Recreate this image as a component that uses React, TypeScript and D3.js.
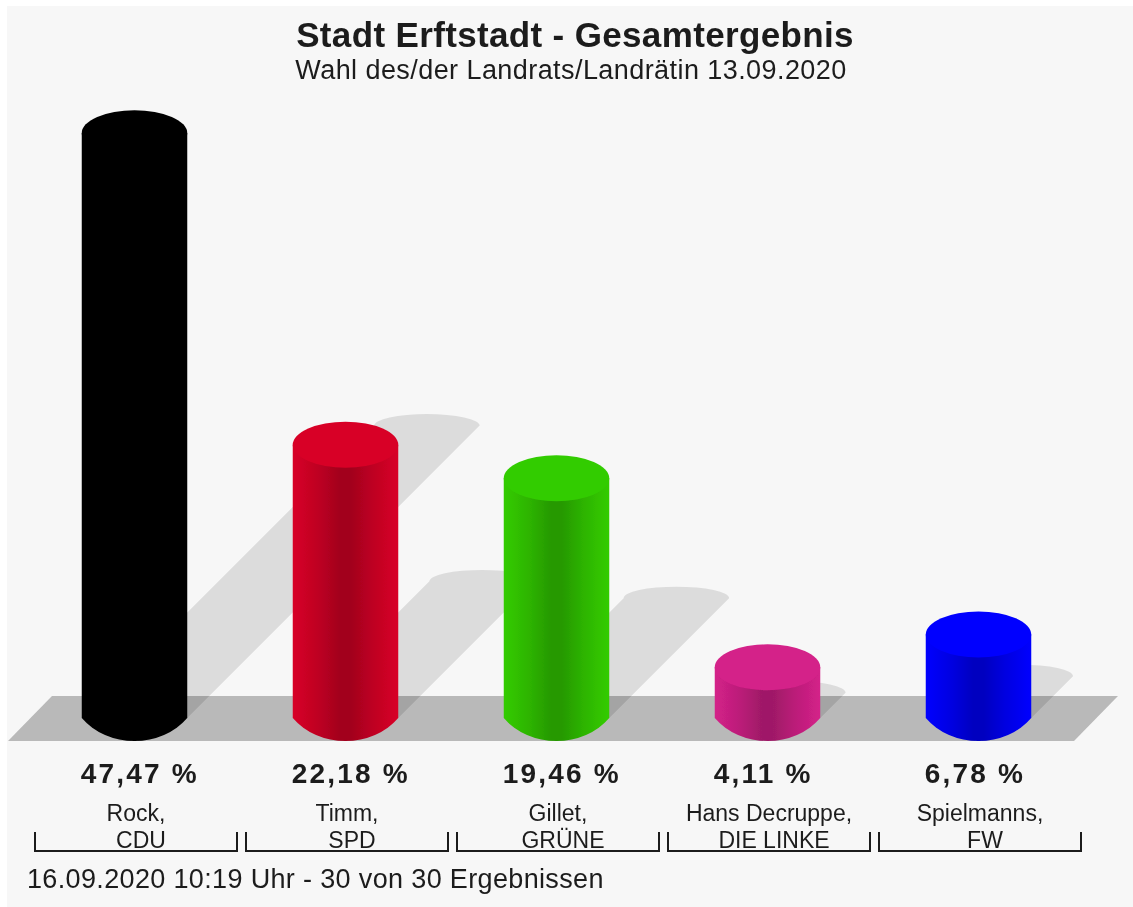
import React, { useEffect, useRef } from 'react';
import * as d3 from 'd3';

const candidates = ['Rock,', 'Timm,', 'Gillet,', 'Hans Decruppe,', 'Spielmanns,'];
const parties = ['CDU', 'SPD', 'GRÜNE', 'DIE LINKE', 'FW'];
const shares = [47.47, 22.18, 19.46, 4.11, 6.78];
const shareLabels = ['47,47 %', '22,18 %', '19,46 %', '4,11 %', '6,78 %'];
const colors = ['#000000', '#d80027', '#33cc00', '#d42189', '#0000ff'];

const title = 'Stadt Erftstadt - Gesamtergebnis';
const subtitle = 'Wahl des/der Landrats/Landrätin 13.09.2020';
const footer = '16.09.2020 10:19 Uhr - 30 von 30 Ergebnissen';

const WIDTH = 1133;
const HEIGHT = 907;
const FONT = '"Liberation Sans", Arial, sans-serif';
const INK = '#1c1c1c';

const App = () => {
  const chartRef = useRef<SVGSVGElement | null>(null);

  useEffect(() => {
    const svg = d3.select(chartRef.current);
    svg.selectAll('*').remove();

    const x = d3.scaleBand().domain(candidates).range([29, 1084]).padding(0);
    const y = d3.scaleLinear().domain([0, 50]).range([718, 102]);

    const base = y(0);
    const barWidth = x.bandwidth() / 2;
    const rx = barWidth / 2;
    const ry = 23;
    const left = (d: string) => x(d)! + barWidth / 2;
    const centre = (d: string) => x(d)! + x.bandwidth() / 2;
    const valueOf = (i: number) => shares[i];

    // bottom edge is flatter than the cap, so it meets the sides at a corner
    const bottomRx = rx * 1.25;
    const bottomRy = ry / (1 - Math.sqrt(1 - (rx / bottomRx) ** 2));

    // one gradient per bar, dark stripe down the middle
    const defs = svg.append('defs');
    candidates.forEach((d, i) => {
      const dark = d3.rgb(colors[i]).darker(0.8).formatHex();
      const mid = d3.interpolateRgb(colors[i], dark)(0.5);
      const grad = defs.append('linearGradient').attr('id', `bar-${i}`);
      [[0, colors[i]], [0.25, mid], [0.45, dark], [0.55, dark], [0.75, mid], [1, colors[i]]].forEach(([o, c]) => {
        grad.append('stop').attr('offset', o as number).attr('stop-color', c as string);
      });
    });
    const soft = defs.append('filter').attr('id', 'soft');
    soft.append('feGaussianBlur').attr('stdDeviation', 0.7);

    svg.append('rect')
      .attr('x', 7).attr('y', 6)
      .attr('width', WIDTH - 7).attr('height', HEIGHT - 6)
      .attr('fill', '#f7f7f7');

    const g = svg.append('g').attr('filter', 'url(#soft)');

    // floor
    g.append('path')
      .attr('d', `M8,741L52,696H1118L1074,741Z`)
      .attr('fill', '#b9b9b9');

    // shadows: half the bar height, sheared 45 degrees
    g.selectAll('.shadow')
      .data(candidates)
      .enter()
      .append('path')
      .attr('class', 'shadow')
      .attr('fill', 'rgba(0,0,0,0.11)')
      .attr('d', (d, i) => {
        const h = (base - y(valueOf(i))) / 2;
        const l = left(d);
        return `M${l},${base}L${l + h},${base - h}A${rx},${ry / 2} 0 0 1 ${l + barWidth + h},${base - h}L${l + barWidth},${base}Z`;
      });

    // cylinder bodies
    g.selectAll('.bar')
      .data(candidates)
      .enter()
      .append('path')
      .attr('class', 'bar')
      .attr('fill', (d, i) => `url(#bar-${i})`)
      .attr('d', (d, i) => {
        const l = left(d);
        const top = y(valueOf(i));
        return `M${l},${top}V${base}A${bottomRx},${bottomRy} 0 0 0 ${l + barWidth},${base}V${top}Z`;
      });

    // cylinder caps
    g.selectAll('.cap')
      .data(candidates)
      .enter()
      .append('ellipse')
      .attr('class', 'cap')
      .attr('cx', d => centre(d))
      .attr('cy', (d, i) => y(valueOf(i)))
      .attr('rx', rx)
      .attr('ry', ry)
      .attr('fill', (d, i) => colors[i]);

    // percent labels
    g.selectAll('.share')
      .data(shareLabels)
      .enter()
      .append('text')
      .attr('class', 'share')
      .attr('x', (d, i) => left(candidates[i]) - 1)
      .attr('y', 783)
      .attr('font-size', 28)
      .attr('font-weight', 700)
      .attr('letter-spacing', 2.2)
      .text(d => d);

    // brackets under each candidate
    g.selectAll('.bracket')
      .data(candidates)
      .enter()
      .append('path')
      .attr('class', 'bracket')
      .attr('fill', 'none')
      .attr('stroke', INK)
      .attr('stroke-width', 2)
      .attr('d', d => `M${x(d)! + 6},832V851H${x(d)! + x.bandwidth() - 3}V832`);

    g.selectAll('.candidate')
      .data(candidates)
      .enter()
      .append('text')
      .attr('class', 'candidate')
      .attr('x', d => centre(d) + 1.5)
      .attr('y', 821)
      .attr('text-anchor', 'middle')
      .attr('font-size', 23)
      .text(d => d);

    g.selectAll('.party')
      .data(parties)
      .enter()
      .append('text')
      .attr('class', 'party')
      .attr('x', (d, i) => centre(candidates[i]) + 6.5)
      .attr('y', 848)
      .attr('text-anchor', 'middle')
      .attr('font-size', 23)
      .text(d => d);

    g.append('text')
      .attr('x', 575).attr('y', 47)
      .attr('text-anchor', 'middle')
      .attr('font-size', 35)
      .attr('font-weight', 700)
      .attr('letter-spacing', 0.35)
      .text(title);

    g.append('text')
      .attr('x', 571).attr('y', 79)
      .attr('text-anchor', 'middle')
      .attr('font-size', 27)
      .attr('letter-spacing', 0.43)
      .text(subtitle);

    g.append('text')
      .attr('x', 27).attr('y', 888)
      .attr('font-size', 27)
      .attr('letter-spacing', 0.35)
      .text(footer);

    g.selectAll('text').attr('font-family', FONT).attr('fill', INK);
  }, []);

  return (
    <svg
      ref={chartRef}
      width={WIDTH}
      height={HEIGHT}
      style={{ position: 'absolute', left: 0, top: 0, background: '#fff' }}
    />
  );
};

export default App;
